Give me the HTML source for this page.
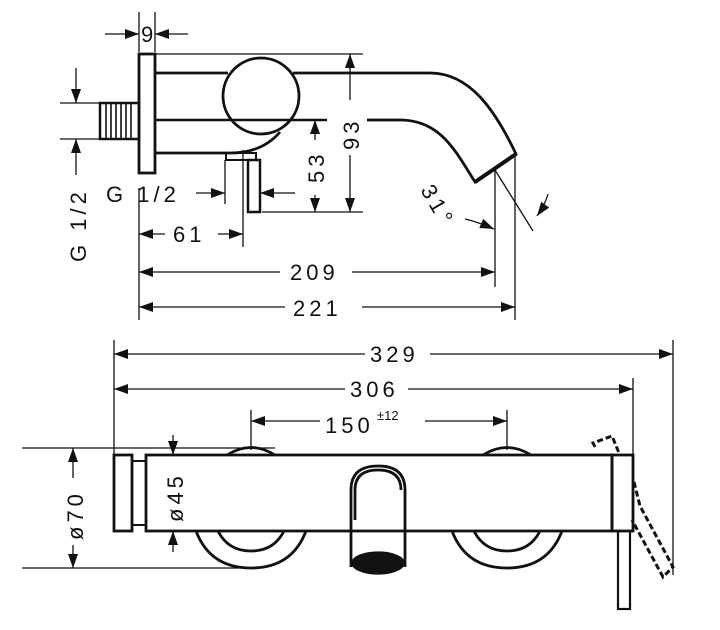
<!DOCTYPE html>
<html><head><meta charset="utf-8"><style>
html,body{margin:0;padding:0;background:#fff;}
svg{display:block}
text{font-family:"Liberation Sans",sans-serif;font-size:22px;fill:#111;stroke:none;letter-spacing:4px}
</style></head><body>
<svg width="720" height="630" viewBox="0 0 720 630" xmlns="http://www.w3.org/2000/svg">
<defs>
<marker id="a" viewBox="0 0 14 10" refX="14" refY="5" markerWidth="14" markerHeight="10" markerUnits="userSpaceOnUse" orient="auto-start-reverse"><path d="M0,0L14,5L0,10z" fill="#111" stroke="none"/></marker>
</defs>
<g stroke="#111" fill="none" stroke-width="1.3">
<!-- ===== TOP VIEW ===== -->
<line x1="139" y1="12" x2="139" y2="52"/><line x1="155" y1="12" x2="155" y2="52"/>
<line x1="105" y1="34" x2="139" y2="34" marker-end="url(#a)"/>
<line x1="188" y1="34" x2="155" y2="34" marker-end="url(#a)"/>
<text x="141" y="42" style="letter-spacing:0">9</text>
<line x1="155" y1="54" x2="363" y2="54"/>
<rect x="139" y="54" width="16" height="119" stroke-width="2.8"/>
<rect x="100" y="103" width="39" height="36" stroke-width="2.5"/>
<g stroke-width="1.6"><line x1="106" y1="103" x2="106" y2="139"/><line x1="111" y1="103" x2="111" y2="139"/><line x1="116" y1="103" x2="116" y2="139"/><line x1="121" y1="103" x2="121" y2="139"/><line x1="126" y1="103" x2="126" y2="139"/><line x1="131" y1="103" x2="131" y2="139"/></g>
<g stroke-width="2.8">
<line x1="155" y1="73" x2="228" y2="73"/>
<line x1="155" y1="153" x2="230" y2="153"/>
<path d="M230,153 Q262,153 280,132"/>
<circle cx="261" cy="96" r="38"/>
<path d="M293,73 L430,73 C470,73 495,110 516,154 L475,182 C455,150 440,120 400,120 L367,120"/>
<path d="M475,182 L516,154" stroke-width="4"/>
<rect x="226" y="153" width="30" height="7" stroke-width="2"/>
<rect x="248" y="160" width="12" height="52" stroke-width="2.5"/>
</g>
<line x1="155" y1="120" x2="327" y2="120" stroke-width="2.5"/>
<line x1="60" y1="103" x2="100" y2="103"/><line x1="60" y1="139" x2="100" y2="139"/>
<line x1="76" y1="68" x2="76" y2="103" marker-end="url(#a)"/>
<line x1="76" y1="175" x2="76" y2="139" marker-end="url(#a)"/>
<text transform="translate(86,262) rotate(-90)">G 1/2</text>
<text x="106" y="202">G 1/2</text>
<line x1="225" y1="160" x2="225" y2="204"/>
<line x1="196" y1="193" x2="225" y2="193" marker-end="url(#a)"/>
<line x1="295" y1="193" x2="260" y2="193" marker-end="url(#a)"/>
<line x1="262" y1="212" x2="363" y2="212"/>
<line x1="315" y1="140" x2="315" y2="120" marker-end="url(#a)"/>
<line x1="315" y1="195" x2="315" y2="212" marker-end="url(#a)"/>
<text transform="translate(324,183) rotate(-90)">53</text>
<line x1="350" y1="100" x2="350" y2="54" marker-end="url(#a)"/>
<line x1="350" y1="155" x2="350" y2="212" marker-end="url(#a)"/>
<text transform="translate(359,150) rotate(-90)">93</text>
<line x1="139" y1="188" x2="139" y2="320"/>
<line x1="243" y1="150" x2="243" y2="247"/>
<line x1="165" y1="234" x2="139" y2="234" marker-end="url(#a)"/>
<line x1="218" y1="234" x2="243" y2="234" marker-end="url(#a)"/>
<text x="173" y="242">61</text>
<line x1="495" y1="170" x2="495" y2="287"/>
<line x1="280" y1="272" x2="139" y2="272" marker-end="url(#a)"/>
<line x1="352" y1="272" x2="495" y2="272" marker-end="url(#a)"/>
<text x="290" y="280">209</text>
<line x1="515" y1="155" x2="515" y2="320"/>
<line x1="285" y1="307" x2="139" y2="307" marker-end="url(#a)"/>
<line x1="362" y1="307" x2="515" y2="307" marker-end="url(#a)"/>
<text x="293" y="316">221</text>
<line x1="495" y1="170" x2="533" y2="231"/>
<path d="M548,194 Q545,205 537,216" marker-end="url(#a)"/>
<path d="M465,219 Q478,222 494,229" marker-end="url(#a)"/>
<text transform="translate(420,190) rotate(60)">31°</text>

<!-- ===== BOTTOM VIEW ===== -->
<line x1="114" y1="340" x2="114" y2="458"/>
<line x1="673" y1="340" x2="673" y2="575"/>
<line x1="633" y1="378" x2="633" y2="455"/>
<line x1="365" y1="354" x2="114" y2="354" marker-end="url(#a)"/>
<line x1="430" y1="354" x2="673" y2="354" marker-end="url(#a)"/>
<text x="370" y="362">329</text>
<line x1="345" y1="389" x2="114" y2="389" marker-end="url(#a)"/>
<line x1="408" y1="389" x2="633" y2="389" marker-end="url(#a)"/>
<text x="350" y="397">306</text>
<line x1="251" y1="410" x2="251" y2="450"/>
<line x1="507" y1="410" x2="507" y2="450"/>
<line x1="320" y1="421" x2="251" y2="421" marker-end="url(#a)"/>
<line x1="425" y1="421" x2="507" y2="421" marker-end="url(#a)"/>
<text x="325" y="433">150</text><text x="377" y="420" style="font-size:13px;letter-spacing:0">±12</text>
<g stroke-width="2.8">
<rect x="114" y="455" width="18" height="76"/>
<rect x="132" y="461" width="14" height="64" stroke-width="2"/>
<rect x="146" y="455" width="466" height="76"/>
<rect x="612" y="455" width="21" height="76"/>
<path d="M227,455 Q251,440 275,455"/>
<path d="M483,455 Q507,440 531,455"/>
<path d="M196,531 Q210,568 251,568 Q292,568 306,531"/>
<path d="M218,531 Q228,551 251,551 Q274,551 284,531"/>
<path d="M452,531 Q466,568 507,568 Q548,568 562,531"/>
<path d="M474,531 Q484,551 507,551 Q530,551 540,531"/>
<path d="M351,567 L351,490 Q351,466 378,466 Q405,466 405,490 L405,567"/>
<path d="M355,520 L355,490 Q355,470 378,470 Q401,470 401,490"/>
<rect x="618" y="531" width="12" height="78" stroke-width="2.2"/>
</g>
<ellipse cx="378" cy="563" rx="26" ry="11" fill="#111"/>
<g stroke-width="3" stroke-dasharray="6,3">
<path d="M595,447 L593,443 L612,436 L619,453"/>
<path d="M634,482 L640,506 L673,567 L663,577 L632,520"/>
</g>
<line x1="22" y1="448" x2="275" y2="448"/>
<line x1="22" y1="568" x2="250" y2="568"/>
<line x1="73" y1="478" x2="73" y2="448" marker-end="url(#a)"/>
<line x1="73" y1="545" x2="73" y2="568" marker-end="url(#a)"/>
<text transform="translate(83,540) rotate(-90)">ø70</text>
<line x1="173" y1="435" x2="173" y2="455" marker-end="url(#a)"/>
<line x1="173" y1="552" x2="173" y2="531" marker-end="url(#a)"/>
<text transform="translate(183,522) rotate(-90)">ø45</text>
</g>
</svg>
</body></html>
